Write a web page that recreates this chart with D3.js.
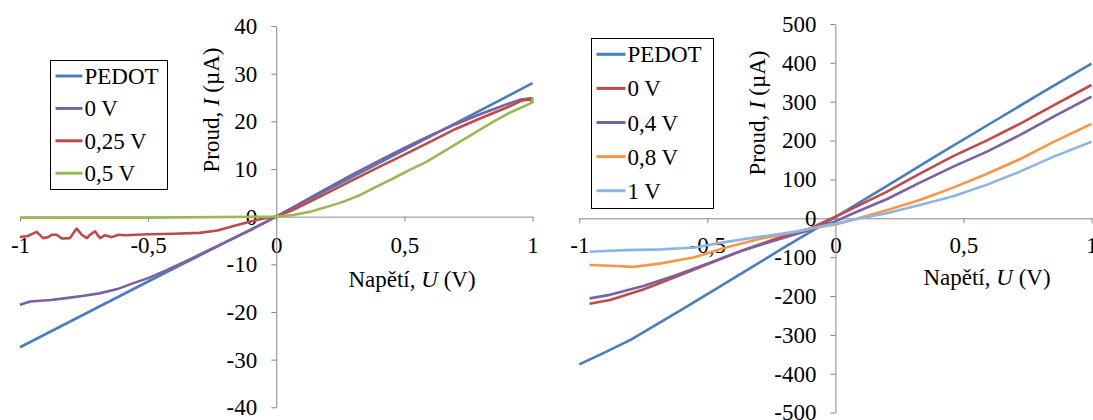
<!DOCTYPE html>
<html>
<head>
<meta charset="utf-8">
<script src="https://cdn.jsdelivr.net/npm/d3@7"></script>
<style>
  body { margin: 0; background: #fff; }
</style>
</head>
<body>
<div id="chart"></div>
<script>

/*============================
==DATA==*/

var xTicks = [-1, -0.5, 0, 0.5, 1];
var xTickLabels = ["-1", "-0,5", "0", "0,5", "1"];

var leftYTicks = [-40, -30, -20, -10, 0, 10, 20, 30, 40];
var rightYTicks = [-500, -400, -300, -200, -100, 0, 100, 200, 300, 400, 500];

// left panel, current in uA
var leftNames = ["PEDOT", "0 V", "0,25 V", "0,5 V"];
var leftPedot = [[-1, -27.4], [-0.5, -13.6], [0, 0], [0.5, 14], [1, 28]];
var leftZero = [[-1, -18.5], [-0.96, -17.8], [-0.88, -17.5], [-0.82, -17.1], [-0.75, -16.6],
  [-0.69, -16.1], [-0.62, -15.2], [-0.56, -14.0], [-0.5, -12.9], [-0.43, -11.3], [-0.35, -9.3],
  [-0.27, -7.2], [-0.2, -5.4], [-0.1, -2.8], [0, 0], [0.1, 3.0], [0.2, 6.0], [0.3, 8.9],
  [0.4, 11.7], [0.5, 14.4], [0.6, 17.0], [0.7, 19.4], [0.8, 21.6], [0.9, 23.6], [0.95, 24.5], [1, 24.9]];
var leftQuarter = [[-1, -4.3], [-0.97, -4.05], [-0.935, -3.2], [-0.91, -4.5], [-0.89, -4.3],
  [-0.876, -3.8], [-0.857, -3.8], [-0.837, -4.6], [-0.805, -4.5], [-0.779, -2.5], [-0.759, -3.8],
  [-0.739, -4.5], [-0.727, -3.8], [-0.707, -3.1], [-0.688, -4.5], [-0.668, -3.9], [-0.642, -4.3],
  [-0.616, -3.8], [-0.59, -3.9], [-0.5, -3.7], [-0.4, -3.6], [-0.3, -3.4], [-0.23, -2.9],
  [-0.17, -2.0], [-0.1, -1.0], [-0.05, -0.4], [0, 0], [0.065, 1.4], [0.13, 3.1], [0.2, 5.0],
  [0.3, 7.7], [0.4, 10.4], [0.5, 13.0], [0.6, 15.7], [0.7, 18.4], [0.8, 20.7], [0.9, 22.9],
  [0.96, 24.4], [0.99, 24.6], [1, 23.9]];
var leftHalf = [[-1, -0.2], [-0.5, -0.2], [0, 0], [0.065, 0.35], [0.13, 1.0], [0.195, 2.0],
  [0.26, 3.1], [0.326, 4.5], [0.391, 6.3], [0.456, 8.0], [0.521, 9.8], [0.586, 11.5],
  [0.651, 13.6], [0.716, 15.7], [0.781, 17.8], [0.846, 19.9], [0.911, 21.8], [0.977, 23.4],
  [1, 24.0], [1, 25.0]];

// right panel, current in uA
var rightNames = ["PEDOT", "0 V", "0,4 V", "0,8 V", "1 V"];
var rightPedot = [[-1, -376], [-0.9, -345], [-0.8, -313], [-0.6, -235], [-0.4, -155],
  [-0.2, -75], [0, 3], [0.2, 83], [0.4, 163], [0.6, 242], [0.8, 321], [1, 398]];
var rightZero = [[-0.96, -220], [-0.88, -210], [-0.75, -183], [-0.62, -150], [-0.49, -116],
  [-0.36, -82], [-0.23, -52], [-0.1, -26], [0, 4], [0.07, 26], [0.2, 68], [0.33, 115],
  [0.46, 160], [0.59, 200], [0.72, 243], [0.85, 290], [1, 343]];
var rightPoint4 = [[-0.96, -206], [-0.88, -197], [-0.75, -174], [-0.62, -146], [-0.49, -114],
  [-0.36, -82], [-0.23, -56], [-0.1, -30], [0, -8], [0.07, 13], [0.2, 49], [0.33, 92],
  [0.46, 133], [0.59, 171], [0.72, 214], [0.85, 261], [1, 313]];
var rightPoint8 = [[-0.96, -120], [-0.88, -122], [-0.79, -125], [-0.68, -116], [-0.55, -100],
  [-0.42, -74], [-0.29, -52], [-0.16, -35], [-0.06, -22], [0, -16], [0.07, -4], [0.2, 21],
  [0.33, 47], [0.46, 79], [0.59, 114], [0.72, 152], [0.85, 196], [1, 243]];
var rightOne = [[-0.96, -86], [-0.82, -82], [-0.68, -80], [-0.55, -75], [-0.42, -60],
  [-0.29, -47], [-0.16, -35], [-0.03, -17], [0, -14], [0.07, -4], [0.2, 13], [0.33, 34],
  [0.46, 57], [0.59, 86], [0.72, 120], [0.85, 158], [1, 197]];

/*=============================
===SVG ELEMENT ================*/
var svgWidth = 1093;
var svgHeight = 420;

var fontFamily = "'Liberation Serif', 'Times New Roman', serif";
var fontSize = 23;
var axisColor = "#868686";

var svg = d3.select("#chart")
  .append("svg")
  .attr("width", svgWidth)
  .attr("height", svgHeight)
  .attr("font-family", fontFamily);

function drawPanel(p) {

  var xScale = d3.scaleLinear().domain([-1, 1]).range(p.xRange);
  var yScale = d3.scaleLinear().domain(p.yDomain).range(p.yRange);

  // x axis sits on y = 0
  var xAxis = d3.axisBottom(xScale)
    .tickValues(xTicks)
    .tickFormat(function(d, i) { return xTickLabels[i]; })
    .tickSize(5)
    .tickSizeOuter(0);

  var gx = svg.append("g")
    .attr("transform", "translate(0," + yScale(0) + ")")
    .call(xAxis);
  gx.selectAll("text").attr("y", p.xLabelY - yScale(0)).attr("dy", null);

  var yAxis = d3.axisLeft(yScale)
    .tickValues(p.yTicks)
    .tickFormat(function(d) { return String(d); })
    .tickSize(5)
    .tickSizeOuter(0)
    .tickPadding(14);

  var gy = svg.append("g")
    .attr("transform", "translate(" + xScale(0) + ",0)")
    .call(yAxis);

  [gx, gy].forEach(function(g) {
    g.attr("font-size", fontSize).attr("font-family", fontFamily);
    g.selectAll("path, line").attr("stroke", axisColor);
    g.selectAll("text").attr("fill", "#000");
  });

  // series lines
  var line = d3.line()
    .x(function(d) { return xScale(d[0]); })
    .y(function(d) { return yScale(d[1]); });

  p.series.forEach(function(s, i) {
    svg.append("path")
      .datum(s)
      .attr("fill", "none")
      .attr("stroke", p.colors[i])
      .attr("stroke-width", 2.6)
      .attr("stroke-linejoin", "round")
      .attr("d", line);
  });

  // axis titles
  var yTitle = svg.append("text")
    .attr("transform", "translate(" + p.yTitle[0] + "," + p.yTitle[1] + ") rotate(-90)")
    .attr("text-anchor", "middle")
    .attr("font-size", fontSize);
  yTitle.append("tspan").text("Proud, ");
  yTitle.append("tspan").attr("font-style", "italic").text("I");
  yTitle.append("tspan").text(" (\u00b5A)");

  var xTitle = svg.append("text")
    .attr("x", p.xTitle[0])
    .attr("y", p.xTitle[1])
    .attr("text-anchor", "middle")
    .attr("font-size", fontSize);
  xTitle.append("tspan").text("Nap\u011bt\u00ed, ");
  xTitle.append("tspan").attr("font-style", "italic").text("U");
  xTitle.append("tspan").text(" (V)");

  // legend
  var lg = p.legend;
  svg.append("rect")
    .attr("x", lg.x).attr("y", lg.y)
    .attr("width", lg.w).attr("height", lg.h)
    .attr("fill", "#fff")
    .attr("stroke", "#000")
    .attr("stroke-width", 1);

  p.names.forEach(function(name, i) {
    var cy = lg.firstY + i * lg.step;
    svg.append("line")
      .attr("x1", lg.x + 5).attr("x2", lg.x + 5 + lg.lineLen)
      .attr("y1", cy).attr("y2", cy)
      .attr("stroke", p.colors[i])
      .attr("stroke-width", 3);
    svg.append("text")
      .attr("x", lg.x + 7 + lg.lineLen)
      .attr("y", cy + 8)
      .attr("font-size", fontSize)
      .text(name);
  });
}

/*=============================
===LEFT PANEL =================*/
drawPanel({
  xRange: [20, 532.5],
  yDomain: [-40, 40],
  yRange: [407.3, 26],
  yTicks: leftYTicks,
  xLabelY: 253,
  series: [leftPedot, leftZero, leftQuarter, leftHalf],
  names: leftNames,
  colors: ["#4A7EBB", "#7D60A0", "#BE4B48", "#98B954"],
  yTitle: [218.5, 110],
  xTitle: [412, 287],
  legend: { x: 50.5, y: 60.5, w: 117, h: 129, firstY: 76, step: 32.4, lineLen: 27 }
});

/*=============================
===RIGHT PANEL ================*/
drawPanel({
  xRange: [579.3, 1091.5],
  yDomain: [-500, 500],
  yRange: [412.6, 24],
  yTicks: rightYTicks,
  xLabelY: 253,
  series: [rightPedot, rightZero, rightPoint4, rightPoint8, rightOne],
  names: rightNames,
  colors: ["#4A7EBB", "#BE4B48", "#7D60A0", "#F79646", "#8EB4E3"],
  yTitle: [765, 113],
  xTitle: [987, 285],
  legend: { x: 591.5, y: 38.5, w: 122, h: 170, firstY: 54.3, step: 34.1, lineLen: 29 }
});

</script>
</body>
</html>
